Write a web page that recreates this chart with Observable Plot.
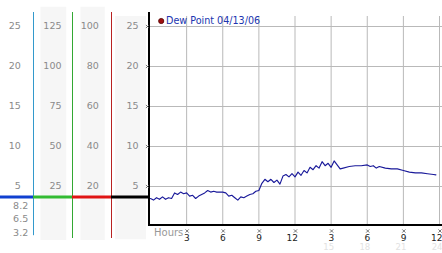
<!DOCTYPE html>
<html>
<head>
<meta charset="utf-8">
<script src="https://cdn.jsdelivr.net/npm/d3@7"></script>
<script src="https://cdn.jsdelivr.net/npm/@observablehq/plot@0.6"></script>
<style>
  html, body { margin: 0; padding: 0; background: #fff; }
  #chart svg { display: block; }
</style>
</head>
<body>
<div id="chart"></div>
<script>
// ---- data ----
const hours = [0,0.25,0.5,0.75,1,1.25,1.5,1.75,2,2.25,2.5,2.75,3,3.25,3.5,3.75,4,4.25,4.5,4.75,5,5.25,5.5,5.75,6,6.25,6.5,6.75,7,7.25,7.5,7.75,8,8.25,8.5,8.75,9,9.25,9.5,9.75,10,10.25,10.5,10.75,11,11.25,11.5,11.75,12,12.25,12.5,12.75,13,13.25,13.5,13.75,14,14.25,14.5,14.75,15,15.25,15.5,15.75,16,16.5,17,17.5,18,18.25,18.5,18.75,19,19.5,20,20.5,21,21.5,22,22.5,23,23.5,23.7];
const dewPoint = [3.5,3.3,3.6,3.4,3.7,3.4,3.6,3.5,4.2,4.0,4.3,4.1,4.2,3.8,3.9,3.5,3.8,4.0,4.2,4.5,4.3,4.4,4.3,4.3,4.3,4.2,3.8,3.9,3.6,3.3,3.7,3.6,3.8,4.0,4.1,4.4,4.5,5.4,5.9,5.6,5.9,5.5,5.8,5.3,6.3,6.5,6.2,6.6,6.2,6.8,6.4,7.0,6.7,7.4,7.1,7.6,7.3,8.1,7.6,7.9,7.4,8.2,7.7,7.2,7.3,7.5,7.6,7.6,7.7,7.5,7.6,7.3,7.5,7.3,7.2,7.2,7.0,6.8,6.7,6.7,6.6,6.5,6.45];
const seriesName = "Dew Point 04/13/06";

const yTicks = [5, 10, 15, 20, 25];
const scale1Labels = ["5", "10", "15", "20", "25"];
const scale2Labels = ["25", "50", "75", "100", "125"];
const scale3Labels = ["20", "40", "60", "80", "100"];
const scale4Labels = ["5", "10", "15", "20", "25"];
const lowerLabels = ["8.2", "6.5", "3.2"];
const lowerLabelPos = [2.6, 0.95, -0.8];
const currentLevel = [3.7];

const xTickHours = [3, 6, 9, 12, 15, 18, 21, 24];
const xTickLabels = ["3", "6", "9", "12", "3", "6", "9", "12"];
const xFaintHours = [15, 18, 21, 24];
const xFaintLabels = ["15", "18", "21", "24"];

const data = hours.map((h, i) => ({h, v: dewPoint[i]}));

// hours-equivalent of pixel offsets on the left panel
const H = 289 / 24;
const hx = px => (px - 150) / H;

const grey = "#8a8a8a";
const fam = "DejaVu Sans";
const shade = "#f6f6f6";

const chart = Plot.plot({
  width: 442,
  height: 253,
  marginLeft: 150, marginRight: 3, marginTop: 26, marginBottom: 27,
  x: {domain: [0, 24], range: [150, 439], axis: null},
  y: {domain: [0, 25], range: [226, 26], axis: null},
  style: {fontFamily: fam, background: "#fff", overflow: "visible"},
  marks: [
    // shaded scale columns
    Plot.ruleX([0], {dx: -97.15, y1: -1.75, y2: 27.4, stroke: shade, strokeWidth: 25.7}),
    Plot.ruleX([0], {dx: -57.85, y1: -1.75, y2: 27.4, stroke: shade, strokeWidth: 24.3}),
    Plot.ruleX([0], {dx: -20, y1: -1.65, y2: 26.25, stroke: shade, strokeWidth: 31}),
    // grid
    Plot.ruleY(yTicks, {x1: 0, x2: 24.3, stroke: "#b9b9b9"}),
    Plot.ruleX(xTickHours, {y1: 0.2, y2: 26.25, stroke: "#b9b9b9"}),
    // colored scale lines
    Plot.ruleX([0], {dx: -117, y1: -1.15, y2: 26.75, stroke: "#3399cc"}),
    Plot.ruleX([0], {dx: -78, y1: -1.5, y2: 26.75, stroke: "#33a833"}),
    Plot.ruleX([0], {dx: -39, y1: -1.5, y2: 26.75, stroke: "#b82222"}),
    // current-level segments
    Plot.ruleY(currentLevel, {x1: hx(0), x2: hx(33), stroke: "#1040d0", strokeWidth: 3}),
    Plot.ruleY(currentLevel, {x1: hx(33), x2: hx(72), stroke: "#33bb33", strokeWidth: 3}),
    Plot.ruleY(currentLevel, {x1: hx(72), x2: hx(111), stroke: "#e01414", strokeWidth: 3}),
    Plot.ruleY(currentLevel, {x1: hx(111), x2: hx(148), stroke: "#000", strokeWidth: 3}),
    // axes
    Plot.ruleX([0], {dx: -1.5, y1: 0, y2: 26.75, stroke: "#000", strokeWidth: 2}),
    Plot.ruleY([0], {dy: -1.5, x1: hx(148), x2: 24.3, stroke: "#000", strokeWidth: 2}),
    // left panel labels
    Plot.text(yTicks, {x: 0, y: d => d, text: (d, i) => scale1Labels[i], dx: -129.7, dy: -1, textAnchor: "end", fill: grey, fontSize: 9.5}),
    Plot.text(yTicks, {x: 0, y: d => d, text: (d, i) => scale2Labels[i], dx: -89, dy: -1, textAnchor: "end", fill: grey, fontSize: 9.5}),
    Plot.text(yTicks, {x: 0, y: d => d, text: (d, i) => scale3Labels[i], dx: -51.7, dy: -1, textAnchor: "end", fill: grey, fontSize: 9.5}),
    Plot.text(yTicks, {x: 0, y: d => d, text: (d, i) => scale4Labels[i], dx: -12, dy: -1, textAnchor: "end", fill: grey, fontSize: 9.5}),
    Plot.text(lowerLabelPos, {x: 0, y: d => d, text: (d, i) => lowerLabels[i], dx: -122.3, textAnchor: "end", fill: grey, fontSize: 9.5}),
    // tick marks
    Plot.dot(yTicks, {x: 0, y: d => d, dx: -3, symbol: "times", r: 1.6, stroke: "#555", strokeWidth: 0.8}),
    Plot.dot(xTickHours, {x: d => d, y: 0, dx: 0.5, dy: 4.5, symbol: "times", r: 1.6, stroke: "#555", strokeWidth: 0.8}),
    // x labels
    Plot.text(["Hours"], {x: 0, y: 0, dx: 3.5, dy: 6.5, textAnchor: "start", fill: "#999", fontSize: 10}),
    Plot.text(xTickHours, {x: d => d, y: 0, text: (d, i) => xTickLabels[i], dx: 3, dy: 11.5, textAnchor: "end", fill: "#222", fontSize: 9}),
    Plot.text(xFaintHours, {x: d => d, y: 0, text: (d, i) => xFaintLabels[i], dx: 3, dy: 21, textAnchor: "end", fill: "#e2e2e2", fontSize: 8.5}),
    // data
    Plot.line(data, {x: "h", y: "v", stroke: "#1a1a9a", strokeWidth: 1.15}),
    // legend
    Plot.dot([seriesName], {x: 0, y: 25, dx: 10.7, dy: -5.5, r: 2.6, fill: "#a01010", stroke: "#500000", strokeWidth: 0.8}),
    Plot.text([seriesName], {x: 0, y: 25, dx: 15.5, dy: -5.5, textAnchor: "start", fill: "#2035b0", fontSize: 9.6})
  ]
});
document.getElementById("chart").appendChild(chart);
</script>
</body>
</html>
